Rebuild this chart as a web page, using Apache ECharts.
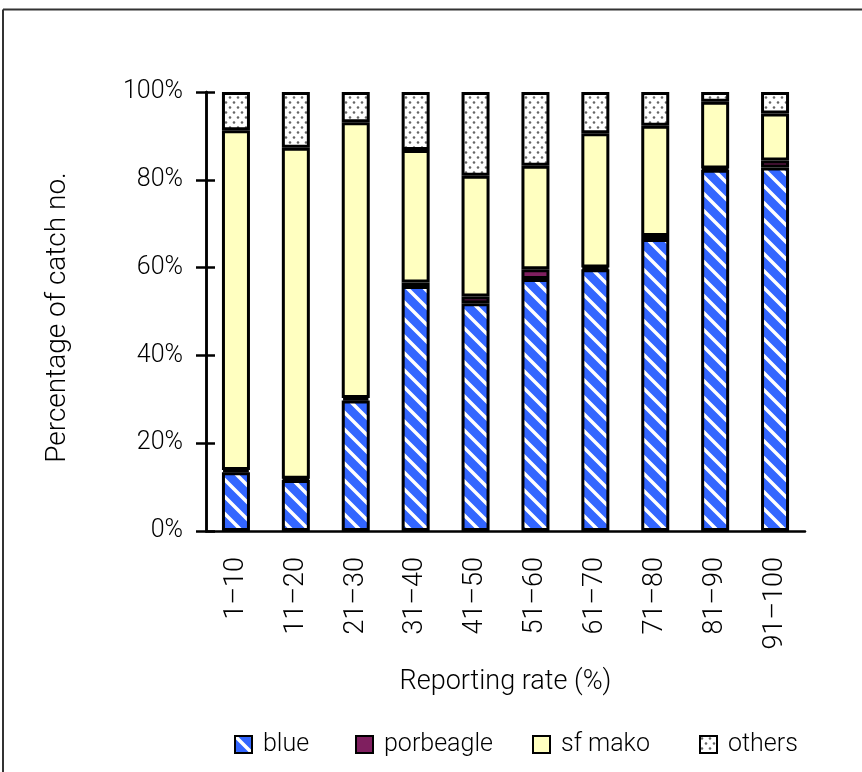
<!DOCTYPE html>
<html>
<head>
<meta charset="utf-8">
<script src="https://cdn.jsdelivr.net/npm/echarts@6/dist/echarts.min.js"></script>
<style>
html,body{margin:0;padding:0;background:#fff;}
#c{width:862px;height:772px;}
</style>
</head>
<body>
<div id="c"></div>
<script>
// ---- data ----
var categories = ['1–10','11–20','21–30','31–40','41–50','51–60','61–70','71–80','81–90','91–100'];
var blue      = [13.4, 11.6, 29.7, 55.8, 51.9, 57.4, 59.6, 66.5, 82.3, 82.8];
var porbeagle = [0.5, 0.3, 0.6, 0.8, 1.5, 2.2, 0.4, 0.7, 0.3, 1.6];
var sfMako    = [77.4, 75.4, 62.8, 30.2, 27.5, 23.6, 30.6, 25.1, 15.2, 10.7];
var others    = [8.7, 12.7, 6.9, 13.2, 19.1, 16.8, 9.4, 7.7, 2.2, 4.9];
var seriesNames = ['blue', 'porbeagle', 'sf mako', 'others'];

// ---- patterns ----
function stripePattern() {
  var s = 17, c = document.createElement('canvas');
  c.width = s; c.height = s;
  var g = c.getContext('2d');
  g.fillStyle = '#3366ff'; g.fillRect(0, 0, s, s);
  g.strokeStyle = '#ffffff'; g.lineWidth = 3.5;
  g.beginPath();
  g.moveTo(-s, -s); g.lineTo(2 * s, 2 * s);
  g.moveTo(-s, 0); g.lineTo(s, 2 * s);
  g.moveTo(0, -s); g.lineTo(2 * s, s);
  g.stroke();
  return c;
}
function dotPattern() {
  var w = 8, h = 10, c = document.createElement('canvas');
  c.width = w; c.height = h;
  var g = c.getContext('2d');
  g.fillStyle = '#ffffff'; g.fillRect(0, 0, w, h);
  g.fillStyle = '#666666';
  g.beginPath(); g.arc(2, 2.5, 1.3, 0, Math.PI * 2); g.fill();
  g.beginPath(); g.arc(6, 7.5, 1.3, 0, Math.PI * 2); g.fill();
  return c;
}

var FONT = 'Roboto, "Liberation Sans", sans-serif';
var FW = 300;
var chart = echarts.init(document.getElementById('c'), null, {renderer: 'canvas'});

function seriesOf(name, data, color) {
  return {
    name: name, type: 'bar', stack: 'total', data: data,
    barWidth: 28,
    itemStyle: {color: color, borderColor: '#000', borderWidth: 3},
    emphasis: {disabled: true}
  };
}

var yBase = {
  type: 'value', min: 0, max: 100, interval: 20,
  axisLine: {show: true, lineStyle: {color: '#000', width: 2.5}},
  splitLine: {show: false}
};

var legendLefts = [229, 350, 527, 694];
var legends = seriesNames.map(function (n, i) {
  return {
    left: legendLefts[i], top: 727,
    itemWidth: 17, itemHeight: 17,
    icon: 'rect',
    textStyle: {fontFamily: FONT, fontWeight: FW, fontSize: 25, color: '#000', padding: [0, 0, 0, 6]},
    data: [n]
  };
});

chart.setOption({
  animation: false,
  backgroundColor: '#fff',
  textStyle: {fontFamily: FONT, fontWeight: FW},
  grid: {left: 206, right: 57, top: 92, bottom: 241, containLabel: false},
  legend: legends,
  xAxis: {
    type: 'category', data: categories,
    axisLine: {lineStyle: {color: '#000', width: 2.5}},
    axisTick: {inside: true, length: 10, lineStyle: {color: '#000', width: 2.5}},
    axisLabel: {rotate: 90, margin: 26, fontFamily: FONT, fontWeight: FW, fontSize: 27, color: '#000', interval: 0},
    name: 'Reporting rate (%)', nameLocation: 'middle', nameGap: 138,
    nameTextStyle: {fontFamily: FONT, fontWeight: FW, fontSize: 27, color: '#000'}
  },
  yAxis: [
    Object.assign({}, yBase, {
      axisTick: {show: true, length: 10, lineStyle: {color: '#000', width: 2.5}},
      axisLabel: {margin: 23, fontFamily: FONT, fontWeight: FW, fontSize: 25, color: '#000', formatter: '{value}%'},
      name: 'Percentage of catch no.', nameLocation: 'middle', nameGap: 134,
      nameTextStyle: {fontFamily: FONT, fontWeight: FW, fontSize: 28, color: '#000', padding: [0, 12, 0, 0]}
    }),
    Object.assign({}, yBase, {
      position: 'left',
      axisTick: {show: true, inside: true, length: 9, lineStyle: {color: '#000', width: 2.5}},
      axisLabel: {show: false}
    })
  ],
  series: [
    seriesOf('blue', blue, {image: stripePattern(), repeat: 'repeat'}),
    seriesOf('porbeagle', porbeagle, '#7f1f5f'),
    seriesOf('sf mako', sfMako, '#ffffc0'),
    seriesOf('others', others, {image: dotPattern(), repeat: 'repeat'})
  ],
  graphic: [
    {type: 'line', shape: {x1: 3, y1: 9.5, x2: 862, y2: 9.5}, style: {stroke: '#333', lineWidth: 2}, silent: true},
    {type: 'line', shape: {x1: 3, y1: 9.5, x2: 3, y2: 772}, style: {stroke: '#333', lineWidth: 2}, silent: true}
  ]
});
</script>
</body>
</html>
